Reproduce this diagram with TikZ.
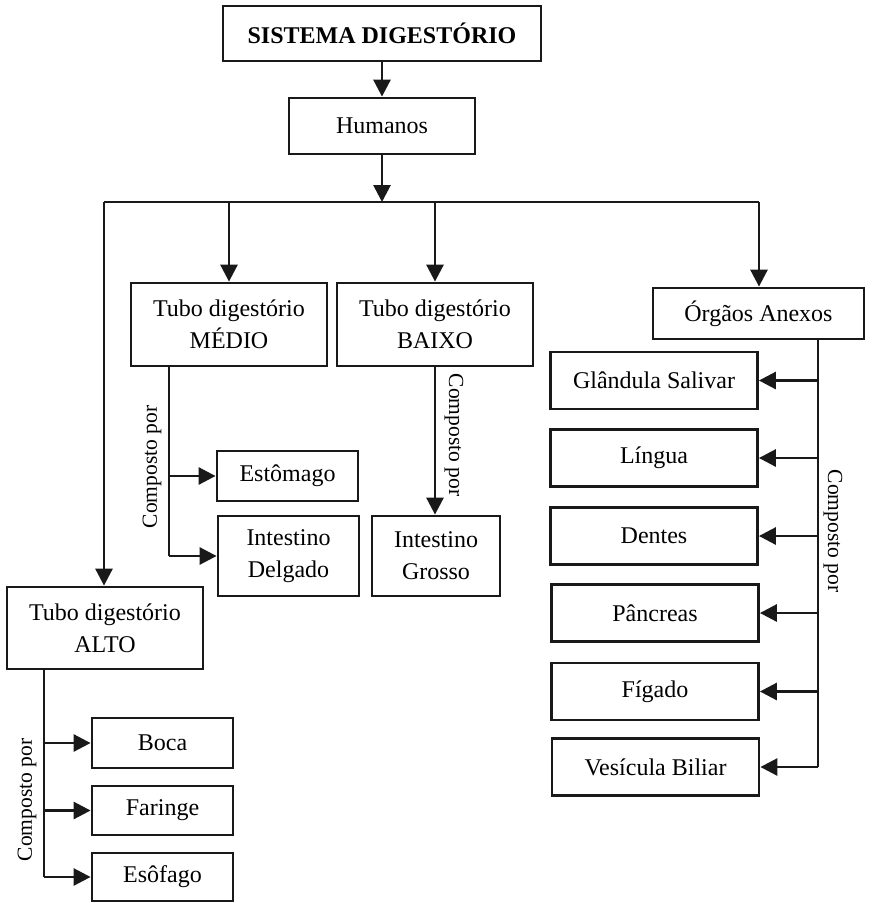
\documentclass[tikz,border=0pt]{standalone}
\usepackage{fontspec}
\setmainfont{Liberation Serif}
\usetikzlibrary{arrows.meta}
\begin{document}
\begin{tikzpicture}[x=1pt,y=-1pt,
 box/.style={draw=black!90, line width=2.8pt, inner sep=0pt, align=center, font=\fontsize{24}{32}\selectfont},
 thinline/.style={draw=black!90, line width=1.5pt},
 arr/.style={draw=black!90, line width=2.8pt, -{Triangle[length=17pt,width=17pt]}},
 lbl/.style={font=\fontsize{21.5}{26}\selectfont, inner sep=0pt}]
\useasboundingbox (0,0) rectangle (871,903);

% top
\node[box,minimum width=318pt,minimum height=55pt,font=\bfseries\fontsize{24}{32}\selectfont] (sys) at (382,33.5) {SISTEMA DIGESTÓRIO};
\node[box,minimum width=186pt,minimum height=56pt] (hum) at (382,126) {Humanos};
\draw[arr] (sys) -- (hum);
\coordinate (hub) at (382,202);
\draw[arr] (hum) -- (hub);
\coordinate (hl) at (104,202);
\coordinate (hm) at (229,202);
\coordinate (hb) at (435,202);
\coordinate (hr) at (759,202);
\draw[thinline] (hl) -- (hr);

% second level
\node[box,minimum width=196pt,minimum height=83pt] (med) at (229,324.5) {Tubo digestório\\MÉDIO};
\node[box,minimum width=196pt,minimum height=83pt] (bai) at (435,324.5) {Tubo digestório\\BAIXO};
\node[box,minimum width=211pt,minimum height=51pt] (org) at (758.5,313.5) {Órgãos Anexos};
\node[box,minimum width=196pt,minimum height=82pt] (alt) at (105,628) {Tubo digestório\\ALTO};
\draw[arr] (hl) -- (hl |- alt.north);
\draw[arr] (hm) -- (med);
\draw[arr] (hb) -- (bai);
\draw[arr] (hr) -- (hr |- org.north);

% medio
\node[box,minimum width=141pt,minimum height=50pt] (est) at (287.5,476) {Estômago};
\node[box,minimum width=141pt,minimum height=80pt] (del) at (288.5,556) {Intestino\\Delgado};
\coordinate (m0) at (169,366);
\coordinate (m1) at (169,476);
\coordinate (m2) at (169,556);
\draw[thinline] (m0) -- (m2);
\draw[arr] (m1) -- (est);
\draw[arr] (m2) -- (del);
\node[lbl,rotate=90] (lm) at (152,467) {Composto por};

% baixo
\node[box,minimum width=128pt,minimum height=80pt] (gro) at (436,556) {Intestino\\Grosso};
\draw[arr] (bai.south) -- (bai.south |- gro.north);
\node[lbl,rotate=-90] (lb) at (454,435) {Composto por};

% orgaos anexos
\node[box,minimum width=207pt,minimum height=57pt] (gla) at (654,380.5) {Glândula Salivar};
\node[box,minimum width=207pt,minimum height=57pt] (lin) at (654,458) {Língua};
\node[box,minimum width=207pt,minimum height=57pt] (den) at (654,536) {Dentes};
\node[box,minimum width=207pt,minimum height=57pt] (pan) at (655,613) {Pâncreas};
\node[box,minimum width=207pt,minimum height=57pt] (fig) at (655,691.5) {Fígado};
\node[box,minimum width=207pt,minimum height=57pt] (ves) at (655.5,767) {Vesícula Biliar};
\coordinate (o0) at (818,339);
\coordinate (o1) at (818,380.5);
\coordinate (o2) at (818,458);
\coordinate (o3) at (818,536);
\coordinate (o4) at (818,613);
\coordinate (o5) at (818,691.5);
\coordinate (o6) at (818,767);
\draw[thinline] (o0) -- (o6);
\draw[arr] (o1) -- (gla);
\draw[arr] (o2) -- (lin);
\draw[arr] (o3) -- (den);
\draw[arr] (o4) -- (pan);
\draw[arr] (o5) -- (fig);
\draw[arr] (o6) -- (ves);
\node[lbl,rotate=-90] (lo) at (833,531) {Composto por};

% alto
\node[box,minimum width=141pt,minimum height=50pt] (boc) at (162.5,743) {Boca};
\node[box,minimum width=141pt,minimum height=49pt] (far) at (162.5,810.5) {Faringe};
\node[box,minimum width=141pt,minimum height=48pt] (eso) at (162.5,877) {Esôfago};
\coordinate (a0) at (44,669);
\coordinate (a1) at (44,743);
\coordinate (a2) at (44,810.5);
\coordinate (a3) at (44,877);
\draw[thinline] (a0) -- (a3);
\draw[arr] (a1) -- (boc);
\draw[arr] (a2) -- (far);
\draw[arr] (a3) -- (eso);
\node[lbl,rotate=90] (la) at (27,800) {Composto por};
\end{tikzpicture}
\end{document}
